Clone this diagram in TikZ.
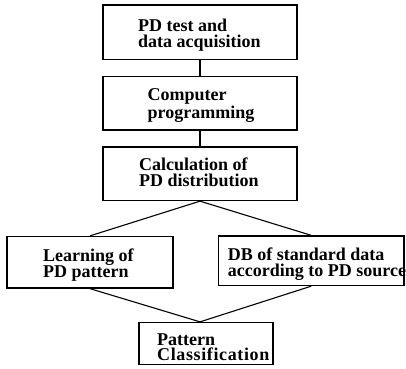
\documentclass[tikz,border=0pt]{standalone}
\usepackage{fontspec}
\setmainfont{Liberation Serif}
\begin{document}
\begin{tikzpicture}[x=1pt,y=-1pt,
  box/.style={draw=black,line width=1.3pt,rectangle,inner sep=0pt},
  txt/.style={font=\fontsize{18}{16}\selectfont\bfseries,inner sep=0pt,anchor=base west,align=left},
  link/.style={draw=black,line width=1.1pt}]
\useasboundingbox (0,0) rectangle (406,368);
\clip (0,0) rectangle (406,368);
% boxes
\node[box,minimum width=194pt,minimum height=54.5pt] (b1) at (200,32.25) {};
\node[box,minimum width=194pt,minimum height=53.5pt] (b2) at (200,103.25) {};
\node[box,minimum width=194pt,minimum height=53.5pt] (b3) at (200,173.75) {};
\node[box,minimum width=166pt,minimum height=51.5pt] (b4) at (90,262.25) {};
\node[box,minimum width=185.5pt,minimum height=49.5pt] (b5) at (311.25,260.75) {};
\node[box,minimum width=134pt,minimum height=42pt] (b6) at (206,343.5) {};
% texts (anchored at the baseline of the last line)
\node[txt] (t1) at (138,47.7) {PD test and\\data acquisition};
\node[txt] (t2) at (147.5,118.3) {Computer\\programming};
\node[txt] (t3) at (139,186.7) {Calculation of\\PD distribution};
\node[txt] (t4) at (43,277.7) {Learning of\\PD pattern};
\node[txt] (t5) at (227.7,276.7) {DB of standard data\\according to PD source};
\node[txt,font=\fontsize{18}{15.7}\selectfont\bfseries] (t6) at (157,360.7) {Pattern\\\addfontfeature{LetterSpace=3.5}Classification};
% connectors
\coordinate (m6) at (b3.south |- b6.north);
\draw[link] (b1.south) -- (b2.north);
\draw[link] (b2.south) -- (b3.north);
\draw[link] (b3.south) -- (b4.north);
\draw[link] (b3.south) -- (b5.north);
\draw[link] (b4.south) -- (m6);
\draw[link] (b5.south) -- (m6);
\end{tikzpicture}
\end{document}
